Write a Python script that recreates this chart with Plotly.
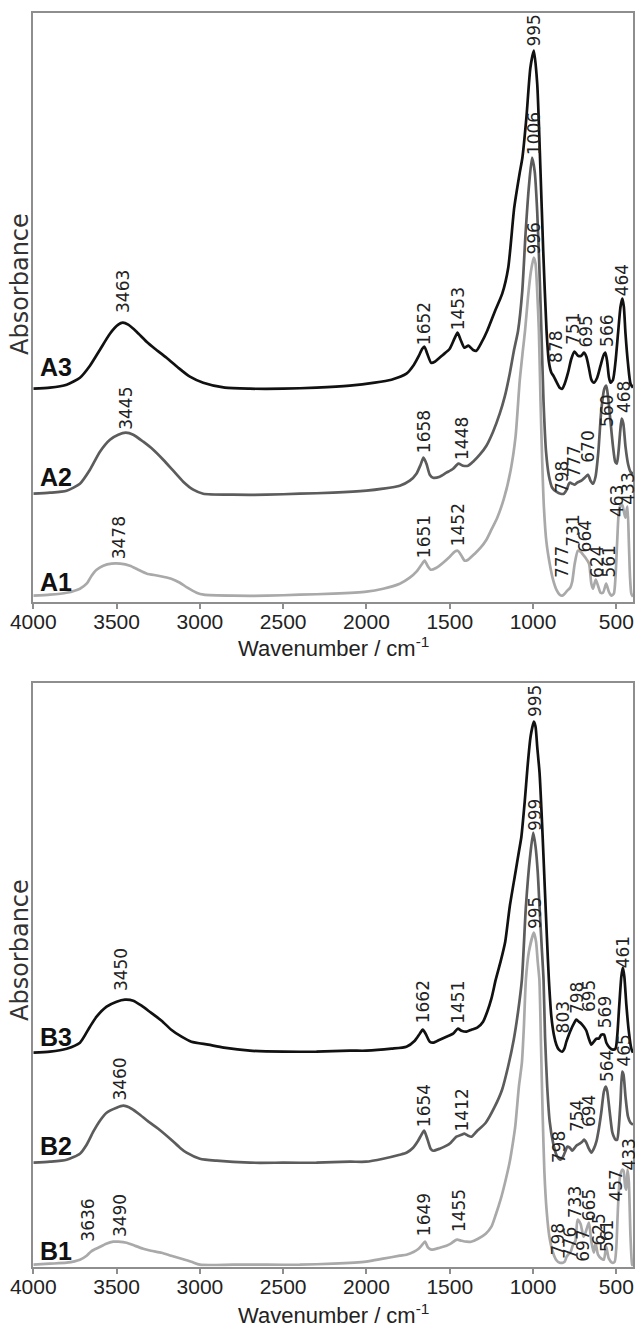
import plotly.graph_objects as go

# ---------------- data (absorbance in arbitrary units) ----------------
A3_wn = [4000,3900,3800,3720,3660,3600,3540,3490,3463,3430,3380,3320,3270,3200,3130,3060,2980,2850,2700,2500,2300,2100,1950,1850,1760,1715,1685,1665,1652,1635,1612,1590,1540,1500,1472,1453,1435,1412,1388,1362,1340,1310,1275,1230,1185,1149,1113,1081,1064,1040,1016,995,975,956,939,919,905,890,878,860,840,825,810,790,770,751,730,710,695,680,665,650,635,615,595,578,566,555,545,535,520,505,490,475,464,455,445,430,415,400]
A3_abs = [2.13,2.14,2.17,2.24,2.36,2.52,2.68,2.77,2.79,2.77,2.70,2.60,2.53,2.44,2.34,2.25,2.19,2.14,2.13,2.13,2.14,2.16,2.19,2.22,2.28,2.37,2.46,2.53,2.55,2.48,2.39,2.40,2.47,2.53,2.63,2.69,2.62,2.54,2.56,2.52,2.51,2.59,2.71,2.90,3.08,3.34,3.94,4.28,4.44,4.84,5.34,5.51,5.18,4.34,3.51,2.71,2.40,2.29,2.26,2.20,2.14,2.13,2.18,2.29,2.43,2.50,2.46,2.46,2.49,2.45,2.34,2.22,2.19,2.24,2.36,2.46,2.49,2.40,2.25,2.19,2.22,2.40,2.68,2.95,3.03,2.95,2.68,2.38,2.18,2.14]

A2_wn = [4000,3900,3800,3720,3660,3600,3540,3490,3445,3400,3340,3280,3220,3160,3100,3040,2980,2800,2600,2400,2200,2000,1900,1800,1740,1700,1675,1658,1640,1620,1600,1560,1520,1480,1448,1420,1390,1360,1320,1280,1240,1200,1170,1140,1115,1090,1065,1045,1025,1006,990,975,962,950,937,922,905,885,860,835,815,798,785,777,765,750,735,710,690,670,655,640,625,608,590,572,560,550,535,520,507,497,487,477,468,458,445,430,415,400]
A2_abs = [1.08,1.09,1.11,1.18,1.32,1.50,1.62,1.67,1.69,1.67,1.60,1.52,1.42,1.31,1.20,1.12,1.08,1.07,1.07,1.08,1.09,1.11,1.13,1.16,1.21,1.28,1.37,1.44,1.38,1.27,1.24,1.25,1.29,1.33,1.38,1.36,1.36,1.40,1.47,1.56,1.70,1.88,2.05,2.28,2.51,2.71,3.10,3.68,4.15,4.44,4.30,3.90,3.34,2.71,2.00,1.50,1.26,1.14,1.10,1.08,1.08,1.12,1.18,1.19,1.18,1.17,1.19,1.21,1.24,1.27,1.21,1.18,1.25,1.50,1.92,2.13,2.16,2.05,1.80,1.55,1.40,1.38,1.50,1.70,1.83,1.78,1.55,1.38,1.30,1.28]

A1_wn = [4000,3900,3800,3720,3680,3650,3620,3580,3530,3478,3420,3370,3318,3250,3172,3120,3075,3020,2977,2800,2600,2400,2200,2000,1900,1800,1740,1700,1670,1651,1630,1615,1580,1540,1500,1470,1452,1430,1410,1390,1350,1315,1280,1250,1215,1175,1135,1105,1080,1062,1048,1030,1013,996,985,975,965,955,945,935,920,900,880,860,840,825,810,795,777,765,750,731,715,700,685,664,650,640,624,610,595,580,561,545,530,515,505,495,485,472,463,452,445,438,433,425,418,410,400]
A1_abs = [0.06,0.07,0.09,0.13,0.18,0.26,0.32,0.36,0.38,0.38,0.36,0.32,0.28,0.26,0.23,0.19,0.14,0.09,0.07,0.06,0.06,0.07,0.08,0.10,0.13,0.18,0.24,0.30,0.37,0.41,0.35,0.32,0.34,0.39,0.45,0.50,0.51,0.46,0.41,0.42,0.48,0.54,0.62,0.72,0.84,1.03,1.31,1.65,2.21,2.50,2.71,3.05,3.30,3.44,3.38,3.10,2.71,2.00,1.40,0.95,0.60,0.38,0.22,0.12,0.07,0.06,0.08,0.11,0.14,0.20,0.38,0.51,0.50,0.47,0.44,0.38,0.18,0.13,0.22,0.16,0.09,0.09,0.18,0.10,0.06,0.08,0.25,0.60,0.90,0.98,0.96,0.88,0.84,0.92,0.95,0.60,0.25,0.08,0.05]

B3_wn = [4000,3900,3800,3720,3660,3620,3560,3500,3450,3400,3350,3294,3230,3172,3110,3051,2950,2856,2700,2500,2300,2100,2000,1850,1760,1710,1680,1662,1645,1620,1600,1560,1520,1480,1451,1430,1400,1370,1335,1300,1275,1250,1224,1195,1167,1140,1107,1085,1070,1050,1033,1015,995,985,975,961,945,929,917,905,890,875,860,845,825,812,800,785,770,755,740,725,710,695,680,665,650,635,620,605,590,574,560,540,520,505,495,483,470,461,452,440,425,410,400]
B3_abs = [2.14,2.15,2.18,2.24,2.40,2.50,2.60,2.65,2.67,2.66,2.61,2.54,2.46,2.37,2.30,2.25,2.22,2.19,2.16,2.15,2.15,2.16,2.16,2.18,2.20,2.26,2.33,2.37,2.33,2.25,2.24,2.27,2.30,2.33,2.38,2.36,2.35,2.37,2.39,2.45,2.55,2.68,2.87,3.05,3.25,3.60,3.93,4.15,4.30,4.65,5.00,5.30,5.45,5.40,5.20,4.94,4.40,3.77,3.30,2.87,2.50,2.32,2.22,2.17,2.15,2.18,2.25,2.32,2.38,2.43,2.47,2.45,2.43,2.40,2.36,2.28,2.22,2.25,2.28,2.28,2.32,2.32,2.24,2.19,2.17,2.18,2.30,2.60,2.90,2.99,2.90,2.62,2.35,2.18,2.14]

B2_wn = [4000,3900,3800,3720,3680,3640,3600,3560,3500,3460,3410,3360,3300,3250,3172,3120,3080,3000,2900,2700,2500,2300,2100,2003,1900,1800,1760,1720,1690,1670,1654,1635,1615,1600,1560,1520,1494,1460,1430,1412,1390,1370,1340,1284,1230,1186,1150,1116,1090,1067,1043,1018,999,985,972,961,948,937,928,915,900,880,860,845,835,820,805,795,780,765,754,740,720,705,694,680,665,650,635,620,605,590,575,564,555,540,525,515,505,495,485,475,465,457,445,430,415,400]
B2_abs = [1.04,1.05,1.07,1.13,1.22,1.35,1.46,1.54,1.59,1.61,1.58,1.52,1.44,1.38,1.27,1.19,1.14,1.08,1.06,1.04,1.04,1.04,1.05,1.05,1.08,1.12,1.14,1.19,1.26,1.32,1.36,1.28,1.18,1.16,1.18,1.21,1.24,1.30,1.32,1.33,1.31,1.30,1.35,1.44,1.60,1.77,2.00,2.27,2.55,2.87,3.60,4.10,4.34,4.20,3.95,3.60,3.20,2.87,2.30,1.80,1.45,1.24,1.12,1.08,1.07,1.10,1.16,1.20,1.19,1.16,1.18,1.21,1.23,1.25,1.27,1.24,1.18,1.14,1.18,1.25,1.38,1.55,1.75,1.80,1.76,1.55,1.35,1.30,1.27,1.27,1.40,1.65,1.95,1.92,1.70,1.50,1.44,1.42]

B1_wn = [4000,3900,3800,3720,3680,3655,3636,3610,3562,3520,3490,3440,3391,3340,3294,3230,3172,3110,3051,3000,2800,2600,2400,2200,2003,1900,1800,1760,1715,1687,1665,1649,1630,1610,1560,1520,1494,1470,1455,1430,1400,1372,1330,1284,1250,1224,1195,1167,1140,1120,1107,1085,1067,1055,1043,1025,995,982,972,962,952,942,932,918,902,882,862,840,820,810,798,785,776,760,745,733,715,697,685,665,650,635,625,610,590,575,561,545,525,510,500,490,478,465,457,447,440,433,425,415,405,400]
B1_abs = [0.02,0.03,0.04,0.07,0.11,0.15,0.17,0.19,0.23,0.25,0.25,0.24,0.21,0.18,0.16,0.14,0.11,0.08,0.05,0.02,0.02,0.02,0.02,0.03,0.05,0.08,0.11,0.12,0.15,0.18,0.22,0.25,0.19,0.17,0.19,0.21,0.23,0.26,0.27,0.26,0.25,0.25,0.28,0.33,0.40,0.52,0.67,0.85,1.05,1.25,1.40,1.80,2.04,2.40,2.87,3.15,3.34,3.25,3.05,2.87,2.20,1.50,0.95,0.55,0.30,0.15,0.07,0.04,0.04,0.05,0.10,0.13,0.14,0.22,0.26,0.47,0.43,0.30,0.34,0.44,0.25,0.14,0.24,0.12,0.08,0.07,0.20,0.08,0.04,0.05,0.20,0.60,0.90,0.97,0.96,0.80,0.77,0.97,0.85,0.30,0.02,0.01]

# peak labels: text, wavenumber, absorbance at label foot
top_labels = ["3463","3445","3478","1652","1453","995","1006","996","464","878","751","695","566","560","468","798","777","670","1658","1448","1651","1452","777","731","664","624","561","463","433"]
top_label_wn = [3463,3440,3485,1655,1450,995,995,995,468,867,765,683,555,555,458,830,755,670,1655,1428,1655,1450,830,760,690,615,545,500,430]
top_label_abs = [2.88,1.71,0.41,2.56,2.70,5.54,4.46,3.46,3.04,2.38,2.56,2.53,2.54,1.74,1.88,1.08,1.23,1.38,1.48,1.41,0.43,0.54,0.23,0.54,0.48,0.23,0.23,0.84,0.96]

bot_labels = ["995","999","995","461","3450","3460","3490","3636","1662","1451","1654","1412","1649","1455","803","798","695","569","564","465","798","754","694","457","433","798","776","733","697","665","625","561"]
bot_label_wn = [992,992,992,462,3474,3477,3480,3669,1660,1447,1655,1425,1655,1445,822,740,668,571,560,455,847,740,668,503,425,852,782,751,700,667,605,560]
bot_label_abs = [5.49,4.35,3.37,2.97,2.75,1.65,0.29,0.24,2.42,2.42,1.39,1.34,0.30,0.34,2.32,2.52,2.54,2.37,1.84,1.99,1.02,1.34,1.39,0.64,0.95,0.10,0.07,0.47,0.04,0.44,0.20,0.14]

sample_names_top = ["A3", "A2", "A1"]
sample_names_bot = ["B3", "B2", "B1"]
sample_name_abs_top = [2.35, 1.25, 0.195]
sample_name_abs_bot = [2.295, 1.21, 0.155]

x_ticks = [4000, 3500, 3000, 2500, 2000, 1500, 1000, 500]

# ---------------- styling ----------------
W, H = 635, 1328
colors = ["#111111", "#5c5c5c", "#a9a9a9"]
axis_gray = "#8e8e8e"
sans = "Liberation Sans, Arial, sans-serif"
label_font = dict(family="DejaVu Sans, Verdana, sans-serif", size=17, color="#222222")

def px_to_paper_y(py):
    return 1 - py / H

x_dom = [33.3 / W, 633 / W]
top_dom = [px_to_paper_y(601.7), px_to_paper_y(13)]
bot_dom = [px_to_paper_y(1266.7), px_to_paper_y(683.3)]

fig = go.Figure()

top_series = [(A3_wn, A3_abs), (A2_wn, A2_abs), (A1_wn, A1_abs)]
bot_series = [(B3_wn, B3_abs), (B2_wn, B2_abs), (B1_wn, B1_abs)]

for (wn, ab), c, name in zip(top_series, colors, sample_names_top):
    fig.add_trace(go.Scatter(x=wn, y=ab, mode="lines", name=name,
                             line=dict(color=c, width=2.7, shape="spline", smoothing=0.6),
                             xaxis="x", yaxis="y", showlegend=False))
for (wn, ab), c, name in zip(bot_series, colors, sample_names_bot):
    fig.add_trace(go.Scatter(x=wn, y=ab, mode="lines", name=name,
                             line=dict(color=c, width=2.7, shape="spline", smoothing=0.6),
                             xaxis="x2", yaxis="y2", showlegend=False))

annotations = []
for t, xw, ya in zip(top_labels, top_label_wn, top_label_abs):
    annotations.append(dict(text=t, x=xw, y=ya, xref="x", yref="y", showarrow=False,
                            textangle=-90, xanchor="center", yanchor="bottom",
                            font=label_font, borderpad=0))
for t, xw, ya in zip(bot_labels, bot_label_wn, bot_label_abs):
    annotations.append(dict(text=t, x=xw, y=ya, xref="x2", yref="y2", showarrow=False,
                            textangle=-90, xanchor="center", yanchor="bottom",
                            font=label_font, borderpad=0))

name_font = dict(family=sans, size=25, color="#111111")
for t, ya in zip(sample_names_top, sample_name_abs_top):
    annotations.append(dict(text="<b>%s</b>" % t, x=38 / W, y=ya, xref="paper", yref="y",
                            showarrow=False, xanchor="left", yanchor="middle", font=name_font))
for t, ya in zip(sample_names_bot, sample_name_abs_bot):
    annotations.append(dict(text="<b>%s</b>" % t, x=38 / W, y=ya, xref="paper", yref="y2",
                            showarrow=False, xanchor="left", yanchor="middle", font=name_font))

ytitle_font = dict(family="DejaVu Sans, Verdana, sans-serif", size=24, color="#333333")
for py in (284, 950):
    annotations.append(dict(text="Absorbance", x=20 / W, y=px_to_paper_y(py), xref="paper", yref="paper",
                            showarrow=False, textangle=-90, xanchor="center", yanchor="middle",
                            font=ytitle_font))

xtitle_font = dict(family=sans, size=22, color="#222222")
for py in (647, 1314):
    annotations.append(dict(text="Wavenumber / cm<sup>-1</sup>", x=333 / W, y=px_to_paper_y(py),
                            xref="paper", yref="paper", showarrow=False,
                            xanchor="center", yanchor="middle", font=xtitle_font))

xaxis_common = dict(range=[4000, 400], autorange=False, tickmode="array", tickvals=x_ticks,
                    ticktext=[str(v) for v in x_ticks], ticks="outside", ticklen=5, tickwidth=1.5,
                    tickcolor=axis_gray, showline=True, linecolor=axis_gray, linewidth=1.6,
                    mirror=True, showgrid=False, zeroline=False, ticklabelstandoff=-5,
                    ticklabeloverflow="allow",
                    tickfont=dict(family=sans, size=21, color="#222222"), domain=x_dom,
                    automargin=False)
yaxis_common = dict(autorange=False, showticklabels=False, ticks="", showline=True,
                    linecolor=axis_gray, linewidth=1.6, mirror=True, showgrid=False,
                    zeroline=False, automargin=False)

fig.update_layout(
    width=W, height=H,
    margin=dict(l=0, r=0, t=0, b=0),
    paper_bgcolor="white", plot_bgcolor="white",
    xaxis=dict(**xaxis_common, anchor="y"),
    yaxis=dict(**yaxis_common, range=[0, 5.887], domain=top_dom, anchor="x"),
    xaxis2=dict(**xaxis_common, anchor="y2"),
    yaxis2=dict(**yaxis_common, range=[0, 5.834], domain=bot_dom, anchor="x2"),
    annotations=annotations,
    showlegend=False,
)

fig.write_html(
    "out.html",
    config={"displayModeBar": False},
    post_script="document.documentElement.style.margin='0';document.body.style.margin='0';"
                "document.body.style.overflow='hidden';document.documentElement.style.overflow='hidden';",
)
